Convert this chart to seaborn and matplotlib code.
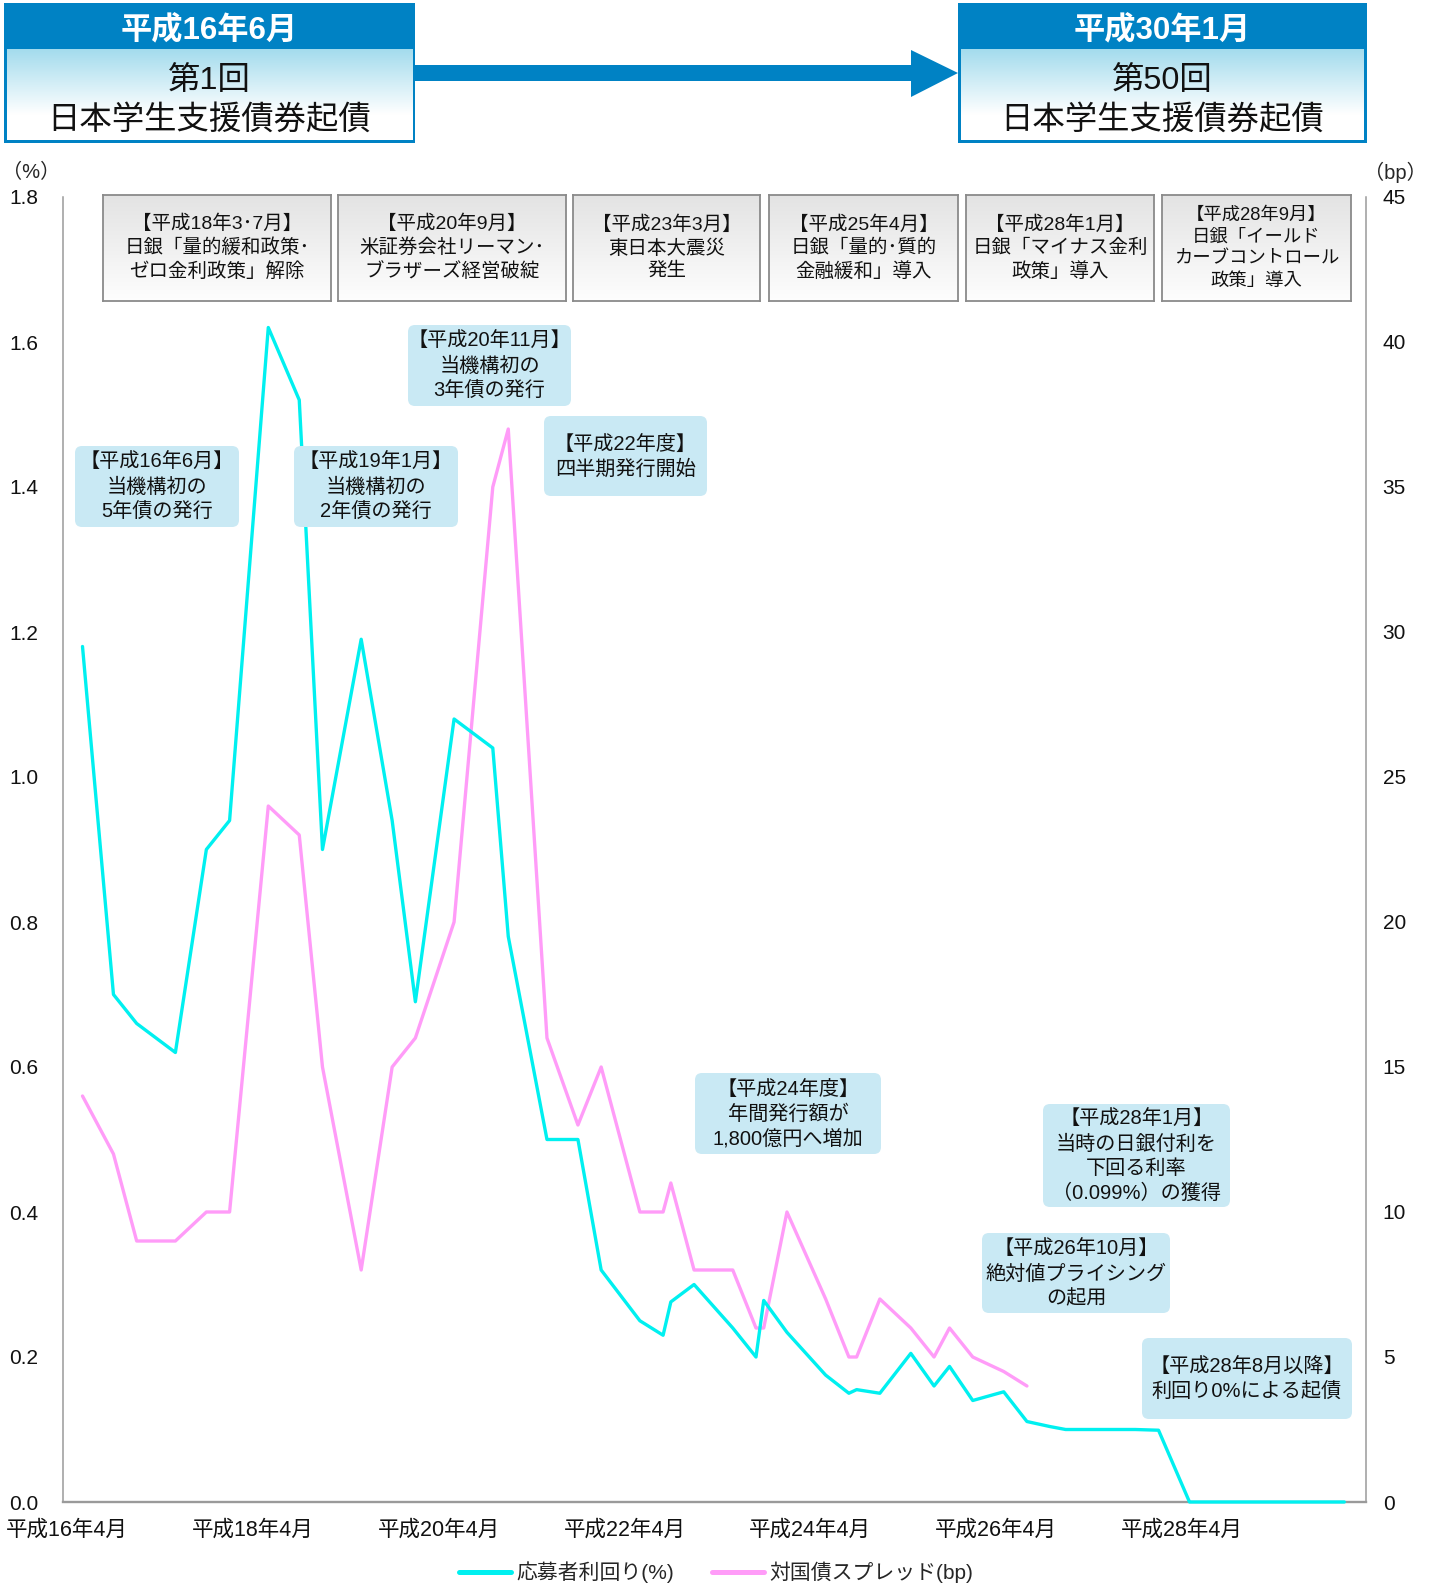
import numpy as np
import pandas as pd
import matplotlib
matplotlib.use("Agg")
import matplotlib.pyplot as plt
import seaborn as sns
from matplotlib.transforms import Affine2D
from matplotlib.patches import Rectangle, Polygon, FancyBboxPatch
from matplotlib.lines import Line2D

# ---------------- data ----------------
# issue month as months since 平成16年4月
issue_month = [2, 6, 9, 14, 18, 21, 26, 30, 33, 38,
               42, 45, 50, 55, 57, 62, 66, 69, 74, 77,
               78, 81, 86, 89, 90, 93, 98, 101, 102, 105,
               109, 112, 114, 117, 121, 124, 127, 129, 132, 135,
               138, 141, 145, 148, 151, 154, 157, 160, 163, 165]
# 応募者利回り (%)
yield_pct = [1.18, 0.70, 0.66, 0.62, 0.90, 0.94, 1.62, 1.52, 0.90, 1.19,
             0.94, 0.69, 1.08, 1.04, 0.78, 0.50, 0.50, 0.32, 0.25, 0.23,
             0.276, 0.30, 0.24, 0.20, 0.278, 0.234, 0.175, 0.15, 0.155, 0.15,
             0.205, 0.16, 0.187, 0.14, 0.152, 0.111, 0.104, 0.10, 0.10, 0.10,
             0.10, 0.099, 0.0, 0.0, 0.0, 0.0, 0.0, 0.0, 0.0, 0.0]
# 対国債スプレッド (bp) – available for the first 36 issues
spread_bp = [14, 12, 9, 9, 10, 10, 24, 23, 15, 8,
             15, 16, 20, 35, 37, 16, 13, 15, 10, 10,
             11, 8, 8, 6, 6, 10, 7, 5, 5, 7,
             6, 5, 6, 5, 4.5, 4]

xtick_pos = [0, 24, 48, 72, 96, 120, 144]
xtick_labels = ["平成16年4月", "平成18年4月", "平成20年4月", "平成22年4月",
                "平成24年4月", "平成26年4月", "平成28年4月"]
left_ticks = [0.0, 0.2, 0.4, 0.6, 0.8, 1.0, 1.2, 1.4, 1.6, 1.8]
right_ticks = [0, 5, 10, 15, 20, 25, 30, 35, 40, 45]

series_names = ["応募者利回り(%)", "対国債スプレッド(bp)"]

event_texts = [
    "【平成18年3･7月】\n日銀「量的緩和政策･\nゼロ金利政策」解除",
    "【平成20年9月】\n米証券会社リーマン･\nブラザーズ経営破綻",
    "【平成23年3月】\n東日本大震災\n発生",
    "【平成25年4月】\n日銀「量的･質的\n金融緩和」導入",
    "【平成28年1月】\n日銀「マイナス金利\n政策」導入",
    "【平成28年9月】\n日銀「イールド\nカーブコントロール\n政策」導入",
]
note_texts = [
    "【平成16年6月】\n当機構初の\n5年債の発行",
    "【平成19年1月】\n当機構初の\n2年債の発行",
    "【平成20年11月】\n当機構初の\n3年債の発行",
    "【平成22年度】\n四半期発行開始",
    "【平成24年度】\n年間発行額が\n1,800億円へ増加",
    "【平成28年1月】\n当時の日銀付利を\n下回る利率\n（0.099%）の獲得",
    "【平成26年10月】\n絶対値プライシング\nの起用",
    "【平成28年8月以降】\n利回り0%による起債",
]

# ---------------- style ----------------
sns.set_theme(style="white")
plt.rcParams["font.family"] = ["Liberation Sans", "Noto Sans CJK JP", "DejaVu Sans"]

W, H = 1430, 1584
fig = plt.figure(figsize=(W / 100, H / 100), dpi=100)
T = Affine2D().scale(1 / W, -1 / H).translate(0, 1) + fig.transFigure


def rect(x0, y0, x1, y1):
    return [x0 / W, 1 - y1 / H, (x1 - x0) / W, (y1 - y0) / H]


CYAN = "#00f0f0"
PINK = "#ff9cf8"
BLUE = "#0082c4"
SPINE = "#9a9a9a"
NOTE_BG = "#c9e9f4"

# ---------------- main chart ----------------
ax = fig.add_axes(rect(63.3, 197, 1366, 1502))
ax2 = ax.twinx()

df_y = pd.DataFrame({"month": issue_month, "value": yield_pct})
df_s = pd.DataFrame({"month": issue_month[:len(spread_bp)], "value": spread_bp})

sns.lineplot(data=df_y, x="month", y="value", ax=ax, color=CYAN, lw=2.4, legend=False,
             zorder=4, clip_on=False)
sns.lineplot(data=df_s, x="month", y="value", ax=ax2, color=PINK, lw=2.4, legend=False,
             zorder=4)

ax.set_xlim(-0.48, 167.8)
ax.set_ylim(0, 1.8)
ax2.set_ylim(0, 45)
ax.set_xlabel("")
ax.set_ylabel("")
ax2.set_ylabel("")

ax.set_xticks(xtick_pos)
ax.set_xticklabels(xtick_labels, fontsize=15.5)
ax.set_yticks(left_ticks)
ax.set_yticklabels([f"{v:.1f}" for v in left_ticks], fontsize=15)
ax2.set_yticks(right_ticks)
ax2.set_yticklabels([str(v) for v in right_ticks], fontsize=15)
ax.tick_params(axis="x", length=0, pad=13, colors="#111111")
ax.tick_params(axis="y", length=0, pad=18, colors="#111111")
ax2.tick_params(axis="y", length=0, pad=12, colors="#111111")
for lab in ax.get_yticklabels():
    lab.set_ha("right")
for lab in ax2.get_yticklabels():
    lab.set_ha("left")

for a in (ax, ax2):
    for s in a.spines.values():
        s.set_visible(False)
        s.set_zorder(1)
ax.spines["left"].set_visible(True)
ax.spines["left"].set_color(SPINE)
ax.spines["left"].set_linewidth(1.1)
ax.spines["bottom"].set_visible(True)
ax.spines["bottom"].set_color(SPINE)
ax.spines["bottom"].set_linewidth(1.7)
ax2.spines["right"].set_visible(True)
ax2.spines["right"].set_color(SPINE)
ax2.spines["right"].set_linewidth(1.1)
ax.grid(False)
ax2.grid(False)
ax.set_facecolor("none")
ax2.set_facecolor("none")
ax.set_zorder(1)
ax2.set_zorder(0)
ax.patch.set_visible(False)

fig.text(2, 172, "（%）", transform=T, ha="left", va="center", fontsize=14.5)
fig.text(1427, 172, "（bp）", transform=T, ha="right", va="center", fontsize=14.5)

# ---------------- legend ----------------
handles = [Line2D([], [], color=CYAN, lw=3.6), Line2D([], [], color=PINK, lw=3.6)]
fig.legend(handles, series_names, loc="center", bbox_to_anchor=(716 / W, 1 - 1572 / H),
           ncol=2, frameon=False, fontsize=15, handlelength=2.5, handletextpad=0.25,
           columnspacing=1.8)

# ---------------- header boxes ----------------
def gradient_axes(x0, y0, x1, y1, top, bottom, stop=1.0, border=None, lw=1.0, z=3):
    a = fig.add_axes(rect(x0, y0, x1, y1))
    a.set_zorder(z)
    t = np.linspace(0, 1, 256)[:, None]
    f = np.clip(t / stop, 0, 1)
    top = np.array(top)
    bottom = np.array(bottom)
    img = top[None, None, :] * (1 - f[:, :, None]) + bottom[None, None, :] * f[:, :, None]
    a.imshow(img, aspect="auto", extent=[0, 1, 0, 1], origin="upper")
    a.set_xlim(0, 1)
    a.set_ylim(0, 1)
    a.set_xticks([])
    a.set_yticks([])
    for s in a.spines.values():
        if border is None:
            s.set_visible(False)
        else:
            s.set_color(border)
            s.set_linewidth(lw)
    return a


def header(x0, x1, date, title):
    fig.patches.append(Rectangle((x0, 3), x1 - x0, 140, transform=T, facecolor=BLUE,
                                 edgecolor="none", zorder=2))
    a = gradient_axes(x0 + 3, 49, x1 - 3, 140, (0.64, 0.86, 0.93), (1, 1, 1), stop=0.72)
    cx = (x0 + x1) / 2
    fig.text(cx, 31, date, transform=T, ha="center", va="center", color="white",
             fontsize=22.5, fontweight="bold", zorder=5)
    a.text(0.5, 0.43, title, transform=a.transAxes, ha="center", va="center",
           color="#111111", fontsize=23.3, linespacing=1.4)


header(4, 415, "平成16年6月", "第1回\n日本学生支援債券起債")
header(958, 1367, "平成30年1月", "第50回\n日本学生支援債券起債")

# arrow between headers
fig.patches.append(Rectangle((415, 65), 500, 16, transform=T, facecolor=BLUE,
                             edgecolor="none", zorder=2))
fig.patches.append(Polygon([(911, 50), (958, 73), (911, 97)], closed=True, transform=T,
                           facecolor=BLUE, edgecolor="none", zorder=2))

# ---------------- event boxes (gray) ----------------
event_x = [(103, 331), (338, 566), (573, 760), (769, 958), (966, 1154), (1162, 1351)]
event_fs = [14, 14, 14, 14, 14, 13.2]
for (x0, x1), txt, fs in zip(event_x, event_texts, event_fs):
    a = gradient_axes(x0, 195, x1, 301, (0.89, 0.89, 0.89), (0.995, 0.995, 0.995),
                      border="#8a8a8a", lw=1.3)
    a.text(0.5, 0.5, txt, transform=a.transAxes, ha="center", va="center",
           fontsize=fs, linespacing=1.38 if fs < 14 else 1.36, color="#111111")

# ---------------- notes (light blue) ----------------
note_boxes = [(75, 446, 239, 527), (294, 446, 458, 527), (408, 325, 571, 406),
              (544, 416, 707, 496), (695, 1073, 881, 1154), (1043, 1104, 1230, 1207),
              (982, 1233, 1170, 1313), (1142, 1338, 1352, 1419)]
for (x0, y0, x1, y1), txt in zip(note_boxes, note_texts):
    fig.patches.append(FancyBboxPatch((x0, y0), x1 - x0, y1 - y0,
                                      boxstyle="round,pad=0,rounding_size=7",
                                      transform=T, facecolor=NOTE_BG, edgecolor="none",
                                      zorder=2))
    fig.text((x0 + x1) / 2, (y0 + y1) / 2 + 1, txt, transform=T, ha="center", va="center",
             fontsize=14.5, linespacing=1.38, color="#111111", zorder=3)

fig.savefig("out.png", dpi=100, facecolor="white")
